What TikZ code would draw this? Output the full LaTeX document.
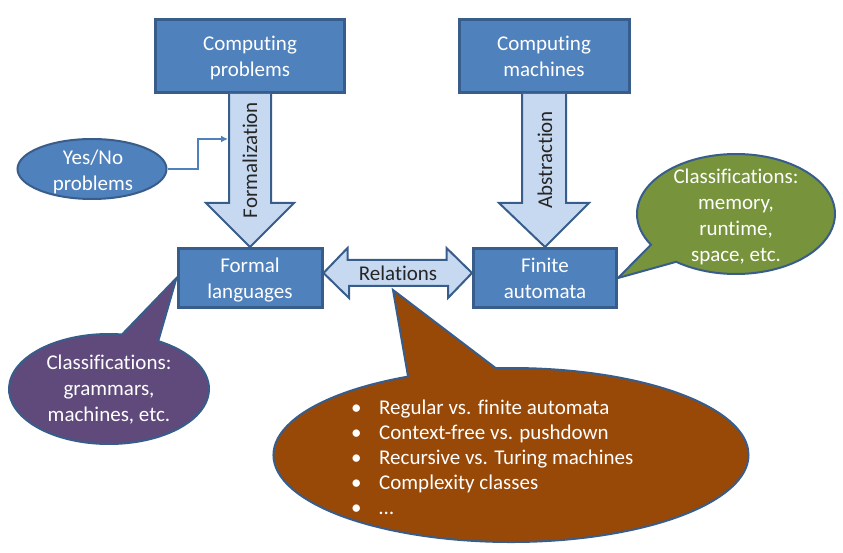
\documentclass[tikz,border=0pt]{standalone}
\usepackage{fontspec}
\setmainfont{Carlito}[Ligatures=CommonOff]
\usetikzlibrary{shapes.geometric,shapes.callouts,arrows.meta}
\definecolor{boxblue}{HTML}{4F81BD}
\definecolor{edgeblue}{HTML}{385D8A}
\definecolor{arrowblue}{HTML}{C6D9F1}
\definecolor{bubblegreen}{HTML}{77933C}
\definecolor{bubbleplum}{HTML}{604A7B}
\definecolor{bubblerust}{HTML}{984807}
\definecolor{labelgray}{HTML}{262626}

\begin{document}
\begin{tikzpicture}[x=1pt, y=-1pt,
		every node/.style={font=\fontsize{21}{26}\selectfont},
		box/.style={rectangle, draw=edgeblue, line width=3pt, fill=boxblue, text=white, align=center, inner sep=0pt, text height=46pt, text depth=5pt},
		blockarrow/.style={draw=edgeblue, line width=2pt, fill=arrowblue, line join=miter},
		bubble/.style={ellipse callout, draw=edgeblue, line width=2pt, inner sep=0pt, callout pointer arc=22},
		bubbletext/.style={text=white, align=center, inner sep=0pt},
		arrowtext/.style={text=labelgray, inner sep=0pt},
		connector/.style={draw=boxblue, line width=2pt, -{Latex[length=7pt,width=7pt]}}]
		\useasboundingbox (0,0) rectangle (843,553);
		% boxes
		\node[box, minimum width=189pt, minimum height=73pt] (cp) at (250,56) {Computing\\problems};
		\node[box, minimum width=170pt, minimum height=73pt] (cm) at (544,56) {Computing\\machines};
		\node[box, minimum width=144pt, minimum height=59pt] (fl) at (250,278) {Formal\\languages};
		\node[box, minimum width=143pt, minimum height=59pt] (fa) at (545,278) {Finite\\automata};
		% block arrows
		\draw[blockarrow] ([xshift=-21pt]cp.south) -- ++(0,109) -- ++(-23,0) -- (fl.north) -- ++(44,-44) -- ++(-23,0) -- ([xshift=21pt]cp.south);
		\draw[blockarrow] ([xshift=-22pt]cm.south) -- ++(0,109) -- ++(-23,0) -- (fa.north) -- ++(44,-44) -- ++(-23,0) -- ([xshift=22pt]cm.south);
		\draw[blockarrow] ([yshift=5pt]fl.east) -- ++(24,-25) -- ++(0,12) -- ++(99,0) -- ++(0,-12) -- ([yshift=5pt]fa.west) -- ++(-24,25) -- ++(0,-12) -- ++(-99,0) -- ++(0,12) -- cycle;
		\node[arrowtext, rotate=90] (form) at (250,160) {Formalization};
		\node[arrowtext, rotate=90] (abst) at (545,160) {Abstraction};
		\node[arrowtext] (rel) at (398,273) {Relations};
		% yes/no problems
		\node[ellipse, draw=edgeblue, line width=2pt, fill=boxblue, minimum width=149pt, minimum height=60pt, inner sep=0pt] (yn) at (92,169) {};
		\node[bubbletext] (ynt) at (93,171.5) {Yes/No\\problems};
		\coordinate (ynend) at (228,139);
		\draw[connector] (yn.east) -- ++(30,0) |- (ynend);
		% callouts
		\node[bubble, fill=bubblegreen, minimum width=198pt, minimum height=120pt, callout absolute pointer={(fa.east)}] (memc) at (736,214) {};
		\node[bubbletext] (memt) at (736,217) {Classifications:\\memory,\\runtime,\\space, etc.};
		\node[bubble, fill=bubbleplum, minimum width=200pt, minimum height=110pt, callout absolute pointer={(fl.west)}] (grmc) at (109,389) {};
		\node[bubbletext] (grmt) at (109,390) {Classifications:\\grammars,\\machines, etc.};
		\node[bubble, fill=bubblerust, minimum width=475pt, minimum height=174pt, callout absolute pointer={(393,290)}] (relc) at (511,455) {};
		\node[bubbletext, align=left, anchor=west, font=\fontsize{21}{25}\selectfont] (relt) at (351,457) {\makebox[28pt][l]{\textbullet}Regular vs. finite automata\\\makebox[28pt][l]{\textbullet}Context-free vs. pushdown\\\makebox[28pt][l]{\textbullet}Recursive vs. Turing machines\\\makebox[28pt][l]{\textbullet}Complexity classes\\\makebox[28pt][l]{\textbullet}…};
	\end{tikzpicture}
\end{document}
